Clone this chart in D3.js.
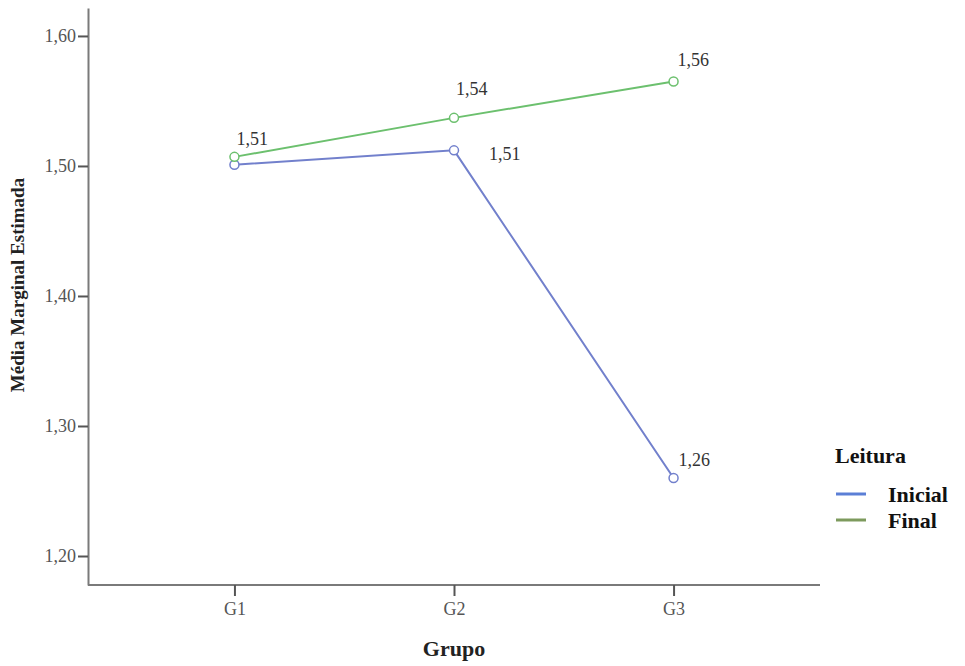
<!DOCTYPE html>
<html><head><meta charset="utf-8">
<script src="https://cdn.jsdelivr.net/npm/d3@7/dist/d3.min.js"></script>
<style>body{margin:0;background:#fff}svg{display:block}
svg text{font-family:"Liberation Serif","DejaVu Serif",serif}</style>
</head><body><svg id="c" width="965" height="666"></svg>
<script>
const groups = ["G1","G2","G3"];
const inicial = [1.501, 1.512, 1.260];
const final_ = [1.507, 1.537, 1.565];
const inicialLabels = ["", "1,51", "1,26"];
const finalLabels = ["1,51", "1,54", "1,56"];
const yTicks = [1.20, 1.30, 1.40, 1.50, 1.60];
const seriesNames = ["Inicial","Final"];

const svg = d3.select("#c");
const mLeft = 88, mRight = 820, mTop = 8, mBottom = 585;
const x = d3.scalePoint().domain(groups).range([mLeft, mRight]).padding(0.667);
const y = d3.scaleLinear().domain([1.1777, 1.6215]).range([mBottom, mTop]);
const axisColor = "#7a7a7a";

// y axis
const ya = svg.append("g").attr("transform", `translate(${mLeft},0)`)
  .call(d3.axisLeft(y).tickValues(yTicks).tickSize(10).tickSizeOuter(0)
    .tickFormat(d => d3.format(".2f")(d).replace(".", ",")));
ya.select(".domain").attr("stroke", axisColor).attr("stroke-width", 2);
ya.selectAll(".tick line").attr("stroke", "#555").attr("stroke-width", 2);
ya.selectAll(".tick text").attr("font-size", 18).attr("fill", "#555").attr("x", -12);

// x axis
const xa = svg.append("g").attr("transform", `translate(0,${mBottom})`)
  .call(d3.axisBottom(x).tickSize(11).tickSizeOuter(0));
xa.select(".domain").attr("stroke", axisColor).attr("stroke-width", 2).attr("d", `M${mLeft},0H${mRight}`);
xa.selectAll(".tick line").attr("stroke", "#555").attr("stroke-width", 2);
xa.selectAll(".tick text").attr("font-size", 18).attr("fill", "#555").attr("y", 17);
ya.attr("font-family", null); xa.attr("font-family", null);

// axis titles
svg.append("text").attr("transform", `translate(24,${285}) rotate(-90)`)
  .attr("text-anchor", "middle").attr("font-weight", "bold")
  .attr("font-size", 19).attr("fill", "#222").text("Média Marginal Estimada");
svg.append("text").attr("x", 454).attr("y", 656).attr("text-anchor", "middle")
  .attr("font-weight", "bold").attr("font-size", 22).attr("fill", "#222").text("Grupo");

const series = [
  {name: "Inicial", values: inicial, labels: inicialLabels, color: "#7280cc", legendColor: "#5b7fd6",
   offsets: [[0,0],[35,10],[5,-12]]},
  {name: "Final", values: final_, labels: finalLabels, color: "#6cc06e", legendColor: "#7d9a5d",
   offsets: [[2,-12],[2,-23],[4,-15]]}
];
const line = d3.line().x((d,i) => x(groups[i])).y(d => y(d));
series.forEach(s => {
  const pts = s.values.map((v,i) => ({g: groups[i], v, label: s.labels[i], off: s.offsets[i]}));
  svg.append("path").datum(s.values).attr("d", line).attr("fill", "none")
    .attr("stroke", s.color).attr("stroke-width", 2);
  svg.selectAll(null).data(pts).enter().append("circle")
    .attr("cx", d => x(d.g)).attr("cy", d => y(d.v)).attr("r", 4.5)
    .attr("fill", "#fff").attr("stroke", s.color).attr("stroke-width", 1.5);
  svg.selectAll(null).data(pts.filter(d => d.label)).enter().append("text")
    .attr("x", d => x(d.g) + d.off[0])
    .attr("y", d => y(d.v) + d.off[1])
    .attr("font-size", 18).attr("fill", "#333")
    .text(d => d.label);
});

// legend
svg.append("text").attr("x", 835).attr("y", 463).attr("font-weight", "bold")
  .attr("font-size", 22).attr("fill", "#111").text("Leitura");
series.forEach((s, i) => {
  const yy = 494 + i * 26;
  svg.append("line").attr("x1", 836).attr("x2", 866).attr("y1", yy).attr("y2", yy)
    .attr("stroke", s.legendColor).attr("stroke-width", 3);
  svg.append("text").attr("x", 888).attr("y", yy + 8).attr("font-weight", "bold")
    .attr("font-size", 22).attr("fill", "#111").text(s.name);
});
</script></body></html>
